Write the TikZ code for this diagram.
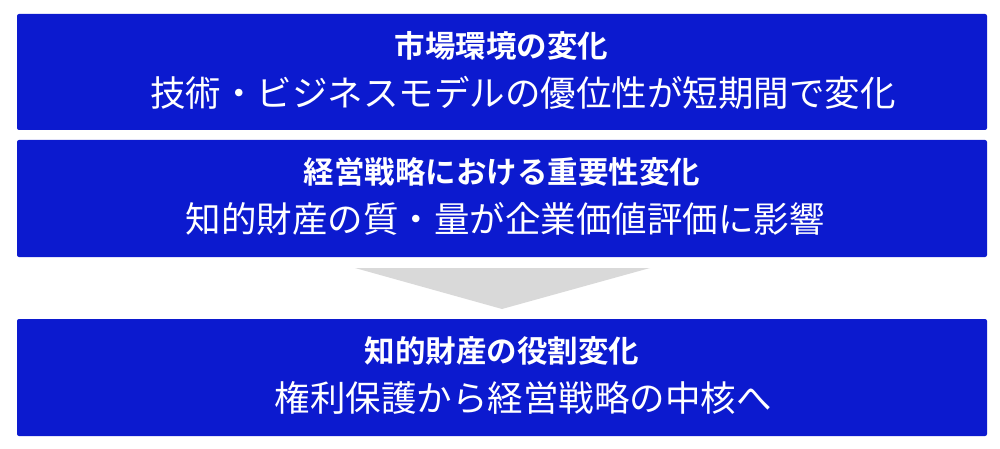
\documentclass[tikz,border=0pt]{standalone}
\usepackage{fontspec}
\newfontfamily\jp{Noto Sans CJK JP}
\newfontfamily\jpb{Noto Sans CJK JP Bold}
\definecolor{boxblue}{HTML}{0C1ACF}
\definecolor{arrowgray}{HTML}{D9D9D9}
\begin{document}
\begin{tikzpicture}[x=1pt,y=-1pt,
  panel/.style={fill=boxblue,draw=none,rounded corners=2pt},
  ttl/.style={text=white,font=\jpb\fontsize{30.5}{34}\selectfont,inner sep=0pt,text height=0.88em,text depth=0.12em,anchor=center},
  sub/.style={text=white,font=\jp\fontsize{35.5}{40}\selectfont,inner sep=0pt,text height=0.88em,text depth=0.12em,anchor=center}]
\useasboundingbox (0,0) rectangle (1000,449);
\fill[panel] (17,14) rectangle (987,130);
\fill[panel] (17,140) rectangle (987,257);
\fill[panel] (17,319) rectangle (987,436);
\fill[arrowgray] (355,268) -- (650,268) -- (502,309) -- cycle;
\node[ttl] (t1) at (501.5,54) {市場環境の変化};
\node[sub] (s1) at (523,103) {技術・ビジネスモデルの優位性が短期間で変化};
\node[ttl] (t2) at (502,180) {経営戦略における重要性変化};
\node[sub] (s2) at (505,229) {知的財産の質・量が企業価値評価に影響};
\node[ttl] (t3) at (502,359) {知的財産の役割変化};
\node[sub] (s3) at (523,408) {権利保護から経営戦略の中核へ};
\end{tikzpicture}
\end{document}
